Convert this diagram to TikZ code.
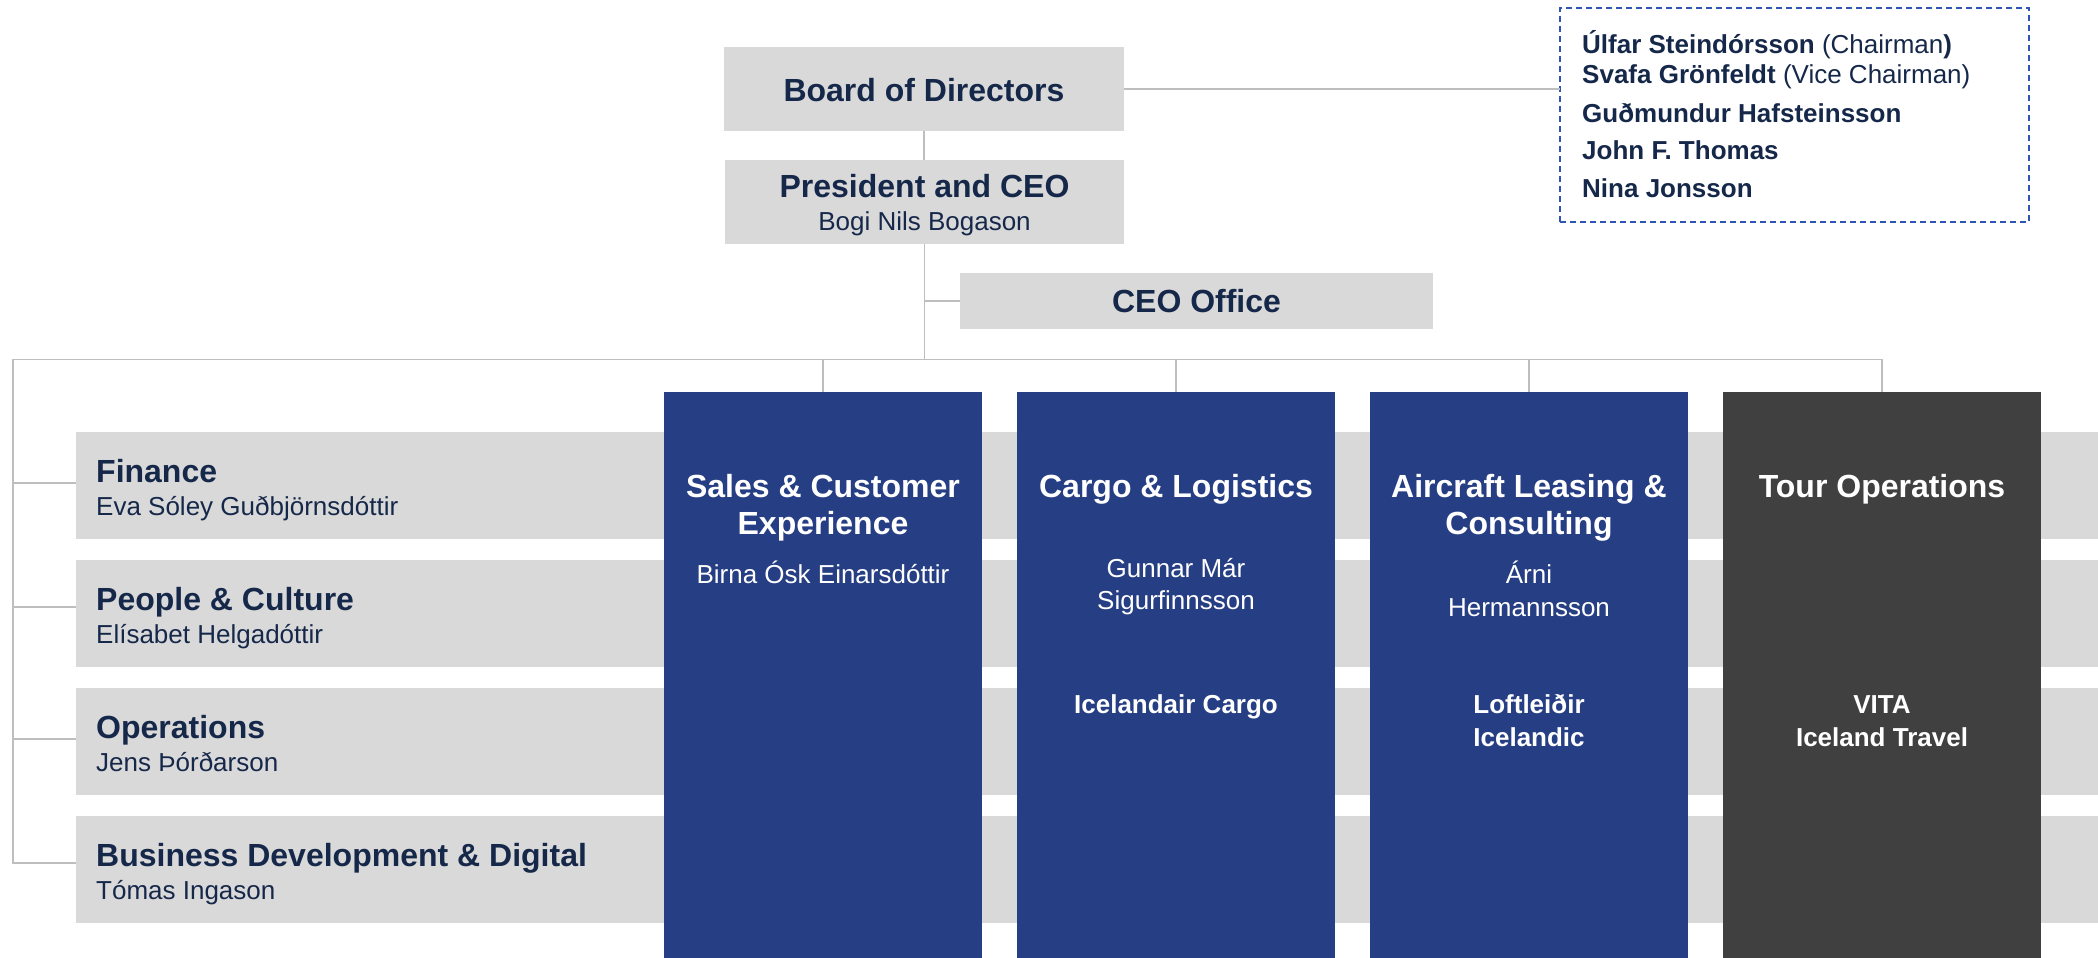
\documentclass[tikz,border=0pt]{standalone}
\usepackage{fontspec}
\setmainfont{Liberation Sans}
\definecolor{navytext}{RGB}{22,40,74}
\definecolor{boxgray}{RGB}{217,217,217}
\definecolor{colnavy}{RGB}{38,62,131}
\definecolor{coldark}{RGB}{64,64,64}
\definecolor{linegray}{RGB}{190,190,190}
\definecolor{dashblue}{RGB}{47,85,180}
\tikzset{
  graybox/.style={fill=boxgray, draw=none, inner sep=0pt, outer sep=0pt, anchor=north west},
  navycol/.style={fill=colnavy, draw=none, inner sep=0pt, outer sep=0pt, anchor=north west, minimum width=318, minimum height=566},
  darkcol/.style={navycol, fill=coldark},
  conn/.style={draw=linegray, line width=1.5pt},
  ttl/.style={font=\fontsize{32}{38}\selectfont\bfseries, text=navytext, inner sep=0pt},
  nm/.style={font=\fontsize{26}{30}\selectfont, text=navytext, inner sep=0pt},
  mem/.style={font=\fontsize{26}{30}\selectfont\bfseries, text=navytext, inner sep=0pt, anchor=base west},
  ttlw/.style={font=\fontsize{32}{38}\selectfont\bfseries, text=white, inner sep=0pt, anchor=base},
  nmw/.style={font=\fontsize{26}{30}\selectfont, text=white, inner sep=0pt, anchor=base},
  bw/.style={font=\fontsize{26}{30}\selectfont\bfseries, text=white, inner sep=0pt, anchor=base},
}
\begin{document}
\begin{tikzpicture}[x=1pt, y=-1pt]
\useasboundingbox (0,0) rectangle (2098,958);

% top boxes
\node[graybox, minimum width=400, minimum height=84] (board) at (724,47) {};
\node[ttl, anchor=base] (boardt) at (924,101) {Board of Directors};
\node[graybox, minimum width=399, minimum height=84] (ceo) at (725,160) {};
\node[ttl, anchor=base] (ceot) at (924.5,197) {President and CEO};
\node[nm, anchor=base] (ceon) at (924.5,230) {Bogi Nils Bogason};
\node[graybox, minimum width=473, minimum height=56] (office) at (960,273) {};
\node[ttl, anchor=base] (officet) at (1196.5,312) {CEO Office};

% board members
\node[draw=dashblue, line width=1.5pt, dash pattern=on 6pt off 4pt, inner sep=0pt, outer sep=0pt, anchor=north west, minimum width=469, minimum height=214] (members) at (1560,8) {};
\node[mem] (m1) at (1582,53) {Úlfar Steindórsson \mdseries(Chairman\bfseries)};
\node[mem] (m2) at (1582,83) {Svafa Grönfeldt \mdseries(Vice Chairman)};
\node[mem] (m3) at (1582,122) {Guðmundur Hafsteinsson};
\node[mem] (m4) at (1582,159) {John F. Thomas};
\node[mem] (m5) at (1582,197) {Nina Jonsson};

% rows
\node[graybox, minimum width=2022, minimum height=107] (row1) at (76,432) {};
\node[graybox, minimum width=2022, minimum height=107] (row2) at (76,560) {};
\node[graybox, minimum width=2022, minimum height=107] (row3) at (76,688) {};
\node[graybox, minimum width=2022, minimum height=107] (row4) at (76,816) {};
\node[ttl, anchor=base west] (r1t) at (96,482) {Finance};
\node[nm, anchor=base west] (r1n) at (96,515) {Eva Sóley Guðbjörnsdóttir};
\node[ttl, anchor=base west] (r2t) at (96,610) {People \& Culture};
\node[nm, anchor=base west] (r2n) at (96,643) {Elísabet Helgadóttir};
\node[ttl, anchor=base west] (r3t) at (96,738) {Operations};
\node[nm, anchor=base west] (r3n) at (96,771) {Jens Þórðarson};
\node[ttl, anchor=base west] (r4t) at (96,866) {Business Development \& Digital};
\node[nm, anchor=base west] (r4n) at (96,899) {Tómas Ingason};

% columns
\node[navycol] (col1) at (664,392) {};
\node[navycol] (col2) at (1017,392) {};
\node[navycol] (col3) at (1370,392) {};
\node[darkcol] (col4) at (1723,392) {};

\node[ttlw] (c1t1) at (823,497) {Sales \& Customer};
\node[ttlw] (c1t2) at (823,534) {Experience};
\node[nmw] (c1n) at (823,583) {Birna Ósk Einarsdóttir};

\node[ttlw] (c2t) at (1176,497) {Cargo \& Logistics};
\node[nmw] (c2n1) at (1176,577) {Gunnar Már};
\node[nmw] (c2n2) at (1176,609) {Sigurfinnsson};
\node[bw] (c2b) at (1176,713) {Icelandair Cargo};

\node[ttlw] (c3t1) at (1529,497) {Aircraft Leasing \&};
\node[ttlw] (c3t2) at (1529,534) {Consulting};
\node[nmw] (c3n1) at (1529,583) {Árni};
\node[nmw] (c3n2) at (1529,616) {Hermannsson};
\node[bw] (c3b1) at (1529,713) {Loftleiðir};
\node[bw] (c3b2) at (1529,746) {Icelandic};

\node[ttlw] (c4t) at (1882,497) {Tour Operations};
\node[bw] (c4b1) at (1882,713) {VITA};
\node[bw] (c4b2) at (1882,746) {Iceland Travel};

% connectors
\coordinate (busL) at (13,359.5);
\path ([yshift=2.5pt]row1.west) coordinate (r1w)
      ([yshift=6.5pt]row2.west) coordinate (r2w)
      ([yshift=2.5pt]row3.west) coordinate (r3w)
      ([yshift=6.5pt]row4.west) coordinate (r4w);
\draw[conn] (board.east) -- (board.east -| members.west);
\draw[conn] (board.south) -- (board.south |- ceo.north);
\draw[conn] (ceo.south) -- (ceo.south |- busL);
\draw[conn] (ceo.south |- office.west) -- (office.west);
\draw[conn] (col4.north) -- (col4.north |- busL) -- (busL) -- (busL |- r4w) -- (r4w);
\draw[conn] (col1.north |- busL) -- (col1.north);
\draw[conn] (col2.north |- busL) -- (col2.north);
\draw[conn] (col3.north |- busL) -- (col3.north);
\draw[conn] (busL |- r1w) -- (r1w);
\draw[conn] (busL |- r2w) -- (r2w);
\draw[conn] (busL |- r3w) -- (r3w);
\end{tikzpicture}
\end{document}
